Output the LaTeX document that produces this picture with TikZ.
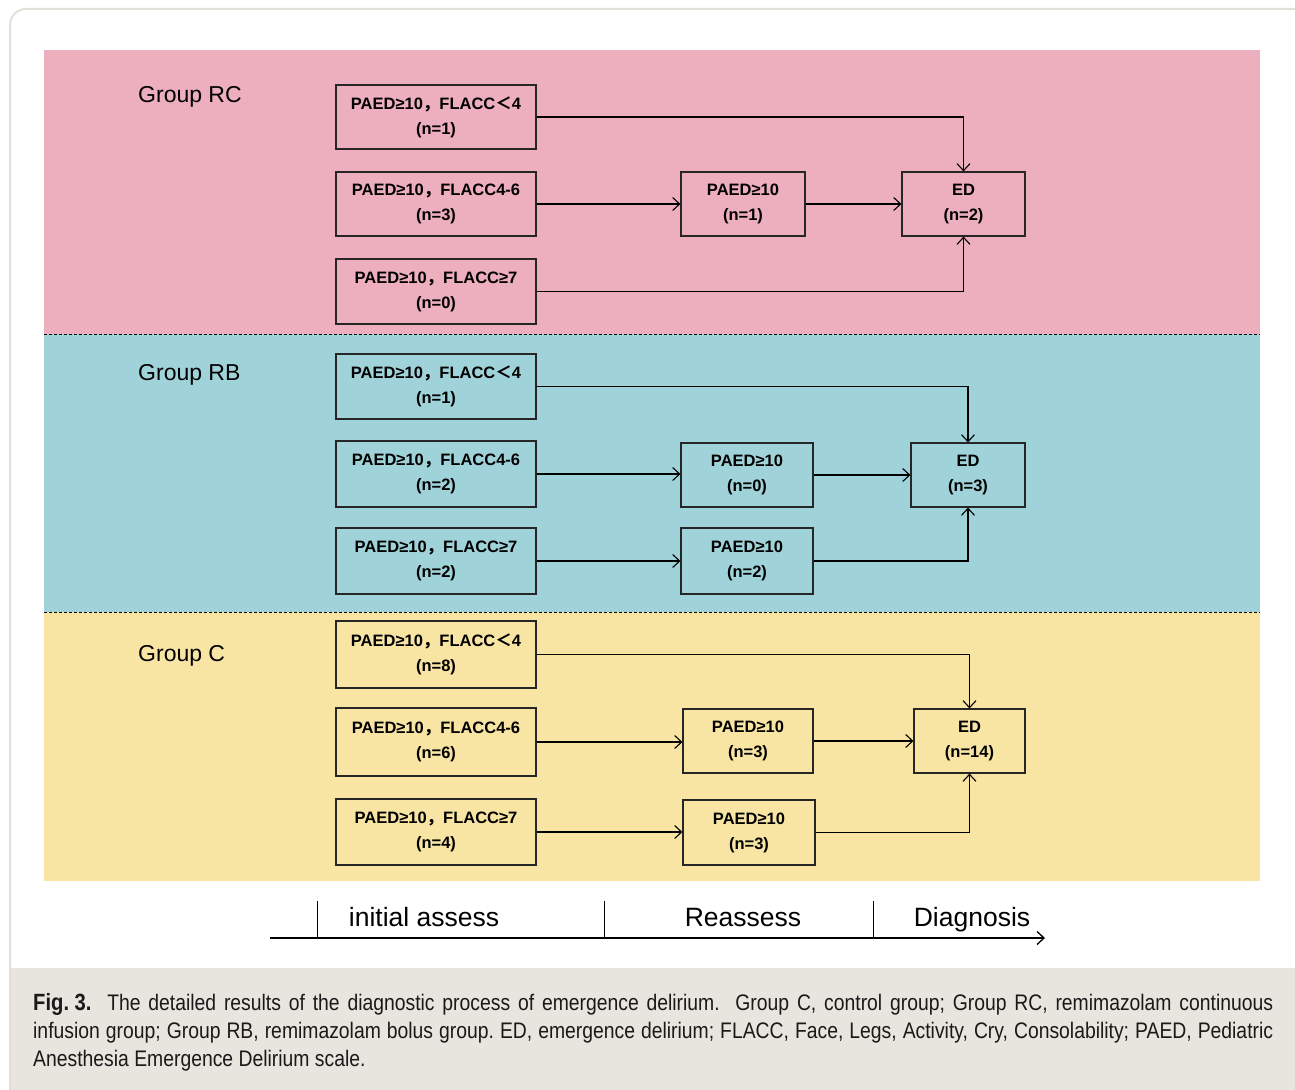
\documentclass[tikz,border=0pt]{standalone}
\usepackage{fontspec}
\setmainfont{Liberation Sans}
\newfontfamily\cjk{Noto Sans CJK SC}
\newfontfamily\capfont[FakeStretch=0.86]{Liberation Sans}
\usetikzlibrary{arrows.meta}
\definecolor{pinkbg}{RGB}{237,174,190}
\definecolor{bluebg}{RGB}{160,211,217}
\definecolor{yellowbg}{RGB}{249,229,163}
\definecolor{capbg}{RGB}{232,229,223}
\definecolor{framec}{RGB}{226,224,216}
\newcommand{\fc}{{\cjk ，}}
\newcommand{\lt}{{\cjk ＜}}
\tikzset{
  box/.style={draw=black!85, line width=1.1pt, align=center, inner sep=0pt,
    font=\fontsize{16.5}{25}\selectfont\bfseries, minimum height=64pt},
  arr/.style={-{Straight Barb[length=7pt,width=13pt]}, line width=1.1pt},
  grp/.style={anchor=west, font=\fontsize{23}{26}\selectfont, inner sep=0pt},
  axlab/.style={anchor=base, font=\fontsize{26.5}{28}\selectfont, inner sep=0pt},
  sep/.style={line width=0.8pt, dash pattern=on 3pt off 2pt},
}
\begin{document}
\begin{tikzpicture}[x=1pt,y=-1pt]
\path[use as bounding box, clip] (0,0) rectangle (1295,1089);
\fill[white] (0,0) rectangle (1295,1089);
% frame and caption background
\begin{scope}
\clip[rounded corners=16pt] (10,9) rectangle (1320,1110);
\fill[capbg] (0,968) rectangle (1320,1110);
\end{scope}
\draw[framec, line width=2pt, rounded corners=16pt] (10,9) rectangle (1320,1110);
% bands
\fill[pinkbg] (44,50) rectangle (1260,334);
\fill[bluebg] (44,334) rectangle (1260,612);
\fill[yellowbg] (44,612) rectangle (1260,881);
\draw[sep] (44,334) -- (1260,334);
\draw[sep] (44,612) -- (1260,612);
% group labels
\node[grp] (gRC) at (138,97) {Group RC};
\node[grp] (gRB) at (138,375) {Group RB};
\node[grp] (gC) at (138,656) {Group C};
% ---- Group RC
\node[box, minimum width=200pt] (rc1) at (436,117) {PAED≥10\fc FLACC\lt 4\\(n=1)};
\node[box, minimum width=200pt] (rc2) at (436,204) {PAED≥10\fc FLACC4-6\\(n=3)};
\node[box, minimum width=200pt, minimum height=65pt] (rc3) at (436,291.5) {PAED≥10\fc FLACC≥7\\(n=0)};
\node[box, minimum width=124pt] (rcm) at (743,204) {PAED≥10\\(n=1)};
\node[box, minimum width=123pt] (rced) at (963.5,204) {ED\\(n=2)};
\draw[arr] (rc1.east) -| (rced.north);
\draw[arr] (rc2.east) -- (rcm.west);
\draw[arr] (rcm.east) -- (rced.west);
\draw[arr] (rc3.east) -| (rced.south);
% ---- Group RB
\node[box, minimum width=200pt, minimum height=65pt] (rb1) at (436,386.5) {PAED≥10\fc FLACC\lt 4\\(n=1)};
\node[box, minimum width=200pt, minimum height=66pt] (rb2) at (436,474) {PAED≥10\fc FLACC4-6\\(n=2)};
\node[box, minimum width=200pt, minimum height=66pt] (rb3) at (436,561) {PAED≥10\fc FLACC≥7\\(n=2)};
\node[box, minimum width=132pt] (rbm1) at (747,475) {PAED≥10\\(n=0)};
\node[box, minimum width=132pt, minimum height=66pt] (rbm2) at (747,561) {PAED≥10\\(n=2)};
\node[box, minimum width=114pt] (rbed) at (968,475) {ED\\(n=3)};
\draw[arr] (rb1.east) -| (rbed.north);
\draw[arr] (rb2.east) -- (rb2.east -| rbm1.west);
\draw[arr] (rbm1.east) -- (rbed.west);
\draw[arr] (rb3.east) -- (rb3.east -| rbm2.west);
\draw[arr] (rbm2.east) -| (rbed.south);
% ---- Group C
\node[box, minimum width=200pt, minimum height=67pt] (c1) at (436,654.5) {PAED≥10\fc FLACC\lt 4\\(n=8)};
\node[box, minimum width=200pt, minimum height=68pt] (c2) at (436,742) {PAED≥10\fc FLACC4-6\\(n=6)};
\node[box, minimum width=200pt, minimum height=66pt] (c3) at (436,832) {PAED≥10\fc FLACC≥7\\(n=4)};
\node[box, minimum width=130pt] (cm1) at (748,741) {PAED≥10\\(n=3)};
\node[box, minimum width=132pt, minimum height=65pt] (cm2) at (749,832.5) {PAED≥10\\(n=3)};
\node[box, minimum width=111pt] (ced) at (969.5,741) {ED\\(n=14)};
\draw[arr] (c1.east) -| (ced.north);
\draw[arr] (c2.east) -- (c2.east -| cm1.west);
\draw[arr] (cm1.east) -- (ced.west);
\draw[arr] (c3.east) -- (c3.east -| cm2.west);
\draw[arr] (cm2.east) -| (ced.south);
% ---- time axis
\coordinate (ax0) at (270,938);
\coordinate (ax1) at (1045,938);
\draw[-{Straight Barb[length=7pt,width=13pt]}, line width=1.3pt] (ax0) -- (ax1);
\draw[line width=1pt] (317,901) -- (317,938);
\draw[line width=1pt] (604,901) -- (604,938);
\draw[line width=1pt] (873,901) -- (873,938);
\node[axlab] (l1) at (424,926) {initial assess};
\node[axlab] (l2) at (743,926) {Reassess};
\node[axlab] (l3) at (972,926) {Diagnosis};
% ---- caption
\node[anchor=north west, inner sep=0pt, text width=1240pt, align=justify,
  font=\capfont\fontsize{22.5}{28}\selectfont\frenchspacing, color=black!90] (cap) at (33,993)
{\mbox{\bfseries\fontsize{23.5}{28}\selectfont Fig. 3.}\ \ The detailed results of the diagnostic process of emergence delirium.\ \ Group C, control group; Group RC, remimazolam continuous\linebreak
infusion group; Group RB, remimazolam bolus group. ED, emergence delirium; FLACC, Face, Legs, Activity, Cry, Consolability; PAED, Pediatric\linebreak
Anesthesia Emergence Delirium scale.};
\end{tikzpicture}
\end{document}
